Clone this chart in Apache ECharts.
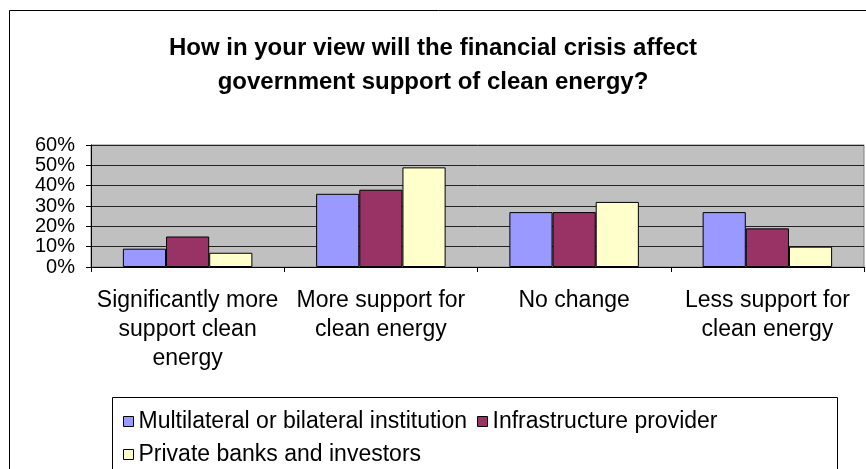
<!DOCTYPE html>
<html>
<head>
<meta charset="utf-8">
<script src="https://cdn.jsdelivr.net/npm/echarts@6/dist/echarts.min.js"></script>
<style>
  html, body { margin: 0; padding: 0; background: #ffffff; }
  #chart { width: 866px; height: 469px; }
</style>
</head>
<body>
<div id="chart"></div>
<script>
// 数据
var categories = [
    'Significantly more\nsupport clean\nenergy',
    'More support for\nclean energy',
    'No change',
    'Less support for\nclean energy'
];
var seriesNames = ['Multilateral or bilateral institution', 'Infrastructure provider', 'Private banks and investors'];
var multilateral = [0.09, 0.36, 0.27, 0.27];
var infrastructure = [0.15, 0.38, 0.27, 0.19];
var privateBanks = [0.07, 0.49, 0.32, 0.10];
var yTicks = [0, 0.1, 0.2, 0.3, 0.4, 0.5, 0.6];

var colors = ['#9999FF', '#993366', '#FFFFCC'];
var font = 'Liberation Sans, Arial, sans-serif';

var chart = echarts.init(document.getElementById('chart'));

function barSeries(name, data, color) {
    return {
        name: name,
        type: 'bar',
        data: data,
        barGap: '0%',
        barCategoryGap: '33%',
        itemStyle: { color: color, borderColor: '#000000', borderWidth: 1 }
    };
}

var option = {
    animation: false,
    title: {
        text: 'How in your view will the financial crisis affect\ngovernment support of clean energy?',
        left: 'center',
        top: 26,
        textStyle: { fontFamily: font, fontSize: 24, fontWeight: 'bold', color: '#000000', lineHeight: 34 }
    },
    // 外框和图例框
    graphic: [
        { type: 'rect', shape: { x: 9.5, y: 10.5, width: 900, height: 500 }, style: { fill: 'none', stroke: '#000000', lineWidth: 1 }, z: 0 },
        { type: 'rect', shape: { x: 112.5, y: 397.5, width: 725, height: 120 }, style: { fill: 'none', stroke: '#000000', lineWidth: 1 }, z: 0 }
    ],
    legend: {
        data: seriesNames,
        left: 118,
        top: 405,
        width: 700,
        itemWidth: 10,
        itemHeight: 10,
        itemGap: 10,
        icon: 'rect',
        itemStyle: { borderColor: '#000000', borderWidth: 1 },
        textStyle: { fontFamily: font, fontSize: 23, color: '#000000', lineHeight: 23 }
    },
    grid: {
        left: 91,
        right: 2,
        top: 145,
        bottom: 202,
        show: true,
        backgroundColor: '#C0C0C0',
        borderColor: '#808080',
        borderWidth: 1
    },
    xAxis: {
        type: 'category',
        data: categories,
        axisLine: { lineStyle: { color: '#000000', width: 1 } },
        axisTick: { show: true, interval: 0, length: 5, lineStyle: { color: '#000000' } },
        axisLabel: { interval: 0, margin: 19, fontFamily: font, fontSize: 23, color: '#000000', lineHeight: 29 }
    },
    yAxis: {
        type: 'value',
        min: yTicks[0],
        max: yTicks[yTicks.length - 1],
        interval: 0.1,
        axisLine: { show: true, lineStyle: { color: '#000000', width: 1 } },
        axisTick: { show: true, length: 5, lineStyle: { color: '#000000' } },
        axisLabel: {
            margin: 16,
            fontFamily: font,
            fontSize: 20,
            color: '#000000',
            lineHeight: 14,
            showMinLabel: true,
            showMaxLabel: true,
            hideOverlap: false,
            formatter: function(v) { return Math.round(v * 100) + '%'; }
        },
        splitLine: { show: true, lineStyle: { color: '#222222', width: 1 } }
    },
    series: [
        barSeries(seriesNames[0], multilateral, colors[0]),
        barSeries(seriesNames[1], infrastructure, colors[1]),
        barSeries(seriesNames[2], privateBanks, colors[2])
    ]
};

chart.setOption(option);
</script>
</body>
</html>
